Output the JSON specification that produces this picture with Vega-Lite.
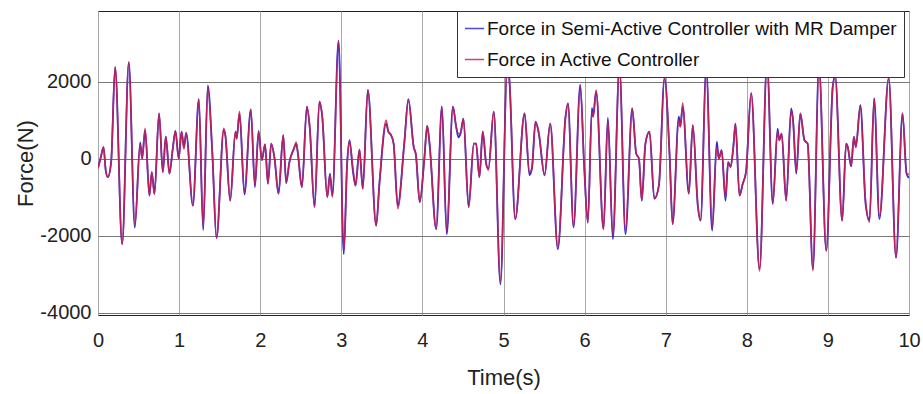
{
"$schema": "https://vega.github.io/schema/vega-lite/v6.json",
"width": 811, "height": 304,
"autosize": {"type": "none"},
"padding": {"left": 98, "top": 11, "right": 14, "bottom": 79},
"background": "white",
"config": {"view": {"stroke": "#222", "strokeWidth": 1}, "font": "Liberation Sans"},
"data": {"values": [
{"t":0.0,"semi":-250,"active":-250},{"t":0.035,"semi":40,"active":40},{"t":0.068,"semi":300,"active":300},{"t":0.095,"semi":-300,"active":-300},{"t":0.121,"semi":-480,"active":-480},{"t":0.162,"semi":-90,"active":-90},{"t":0.211,"semi":2375,"active":2375},{"t":0.298,"semi":-2220,"active":-2220},{"t":0.38,"semi":2500,"active":2500},{"t":0.454,"semi":-1790,"active":-1720},{"t":0.52,"semi":420,"active":360},{"t":0.544,"semi":0,"active":0},{"t":0.581,"semi":740,"active":790},{"t":0.634,"semi":-960,"active":-960},{"t":0.663,"semi":-350,"active":-350},{"t":0.696,"semi":-910,"active":-930},{"t":0.753,"semi":1175,"active":1175},{"t":0.799,"semi":-350,"active":-350},{"t":0.836,"semi":570,"active":570},{"t":0.881,"semi":-390,"active":-390},{"t":0.92,"semi":220,"active":220},{"t":0.955,"semi":720,"active":720},{"t":0.995,"semi":0,"active":0},{"t":1.03,"semi":700,"active":700},{"t":1.06,"semi":300,"active":250},{"t":1.087,"semi":670,"active":670},{"t":1.17,"semi":-1220,"active":-1220},{"t":1.243,"semi":1540,"active":1540},{"t":1.297,"semi":-1850,"active":-1760},{"t":1.354,"semi":1900,"active":1850},{"t":1.41,"semi":130,"active":130},{"t":1.461,"semi":-2060,"active":-2060},{"t":1.551,"semi":740,"active":790},{"t":1.57,"semi":610,"active":610},{"t":1.63,"semi":-1090,"active":-1090},{"t":1.695,"semi":700,"active":700},{"t":1.71,"semi":520,"active":520},{"t":1.745,"semi":1175,"active":1230},{"t":1.806,"semi":-930,"active":-880},{"t":1.884,"semi":1280,"active":1280},{"t":1.935,"semi":-740,"active":-680},{"t":1.98,"semi":720,"active":680},{"t":2.02,"semi":-40,"active":-40},{"t":2.06,"semi":370,"active":370},{"t":2.095,"semi":-650,"active":-650},{"t":2.136,"semi":390,"active":390},{"t":2.177,"semi":0,"active":0},{"t":2.226,"semi":-910,"active":-910},{"t":2.284,"semi":610,"active":610},{"t":2.32,"semi":-640,"active":-590},{"t":2.36,"semi":-90,"active":-90},{"t":2.416,"semi":260,"active":260},{"t":2.444,"semi":390,"active":430},{"t":2.465,"semi":130,"active":130},{"t":2.514,"semi":-740,"active":-740},{"t":2.576,"semi":1350,"active":1350},{"t":2.61,"semi":830,"active":830},{"t":2.67,"semi":-1260,"active":-1260},{"t":2.73,"semi":1480,"active":1480},{"t":2.765,"semi":1090,"active":1090},{"t":2.827,"semi":-1000,"active":-1000},{"t":2.86,"semi":-390,"active":-420},{"t":2.89,"semi":-960,"active":-1000},{"t":2.966,"semi":3060,"active":3060},{"t":3.03,"semi":-2480,"active":-2400},{"t":3.072,"semi":-130,"active":-130},{"t":3.101,"semi":480,"active":440},{"t":3.142,"semi":-300,"active":-217},{"t":3.175,"semi":-700,"active":-700},{"t":3.224,"semi":235,"active":235},{"t":3.265,"semi":-780,"active":-780},{"t":3.327,"semi":1780,"active":1780},{"t":3.43,"semi":-1740,"active":-1740},{"t":3.47,"semi":-650,"active":-650},{"t":3.553,"semi":910,"active":1000},{"t":3.58,"semi":700,"active":700},{"t":3.613,"semi":610,"active":610},{"t":3.645,"semi":390,"active":390},{"t":3.696,"semi":-1220,"active":-1300},{"t":3.778,"semi":435,"active":435},{"t":3.827,"semi":1540,"active":1540},{"t":3.893,"semi":300,"active":300},{"t":3.92,"semi":100,"active":100},{"t":3.967,"semi":-1130,"active":-1130},{"t":4.024,"semi":0,"active":0},{"t":4.059,"semi":850,"active":850},{"t":4.088,"semi":390,"active":390},{"t":4.17,"semi":-1830,"active":-1830},{"t":4.24,"semi":1350,"active":1350},{"t":4.3,"semi":-1960,"active":-1880},{"t":4.376,"semi":1350,"active":1350},{"t":4.416,"semi":830,"active":830},{"t":4.445,"semi":550,"active":650},{"t":4.47,"semi":650,"active":650},{"t":4.506,"semi":1040,"active":1040},{"t":4.57,"semi":-1260,"active":-1260},{"t":4.634,"semi":390,"active":390},{"t":4.662,"semi":390,"active":390},{"t":4.703,"semi":-480,"active":-480},{"t":4.744,"semi":700,"active":700},{"t":4.786,"semi":-130,"active":-130},{"t":4.814,"semi":-260,"active":-300},{"t":4.88,"semi":1220,"active":1220},{"t":4.962,"semi":-3260,"active":-3180},{"t":5.045,"semi":2300,"active":2300},{"t":5.07,"semi":2100,"active":2100},{"t":5.144,"semi":-1570,"active":-1570},{"t":5.26,"semi":1175,"active":1175},{"t":5.32,"semi":-430,"active":-360},{"t":5.35,"semi":-260,"active":-260},{"t":5.395,"semi":960,"active":960},{"t":5.436,"semi":650,"active":650},{"t":5.506,"semi":-435,"active":-435},{"t":5.576,"semi":910,"active":910},{"t":5.67,"semi":-2350,"active":-2280},{"t":5.765,"semi":1090,"active":1090},{"t":5.795,"semi":1435,"active":1435},{"t":5.864,"semi":-1780,"active":-1780},{"t":5.946,"semi":1910,"active":1910},{"t":5.995,"semi":-200,"active":-200},{"t":6.04,"semi":-1660,"active":-1660},{"t":6.09,"semi":1310,"active":1200},{"t":6.105,"semi":1090,"active":1090},{"t":6.142,"semi":1740,"active":1780},{"t":6.233,"semi":-1830,"active":-1830},{"t":6.287,"semi":1060,"active":990},{"t":6.348,"semi":-2090,"active":-1990},{"t":6.43,"semi":2400,"active":2400},{"t":6.504,"semi":-1960,"active":-1880},{"t":6.587,"semi":1300,"active":1300},{"t":6.636,"semi":130,"active":130},{"t":6.67,"semi":0,"active":0},{"t":6.705,"semi":-1090,"active":-1090},{"t":6.75,"semi":390,"active":390},{"t":6.8,"semi":700,"active":700},{"t":6.86,"semi":-1040,"active":-1040},{"t":6.916,"semi":-700,"active":-700},{"t":6.985,"semi":2090,"active":2090},{"t":7.05,"semi":0,"active":0},{"t":7.085,"semi":-1700,"active":-1700},{"t":7.162,"semi":1090,"active":1000},{"t":7.18,"semi":830,"active":830},{"t":7.21,"semi":1350,"active":1450},{"t":7.285,"semi":-910,"active":-910},{"t":7.334,"semi":870,"active":870},{"t":7.396,"semi":-1220,"active":-1220},{"t":7.43,"semi":-1610,"active":-1610},{"t":7.5,"semi":2350,"active":2350},{"t":7.573,"semi":-1870,"active":-1800},{"t":7.63,"semi":440,"active":300},{"t":7.655,"semi":0,"active":0},{"t":7.69,"semi":220,"active":220},{"t":7.737,"semi":-1090,"active":-1000},{"t":7.77,"semi":-90,"active":-90},{"t":7.8,"semi":-217,"active":-217},{"t":7.836,"semi":350,"active":350},{"t":7.86,"semi":910,"active":910},{"t":7.91,"semi":-960,"active":-960},{"t":7.95,"semi":-650,"active":-650},{"t":7.99,"semi":-350,"active":-350},{"t":8.054,"semi":1700,"active":1700},{"t":8.157,"semi":-2860,"active":-2915},{"t":8.25,"semi":2500,"active":2500},{"t":8.32,"semi":-1175,"active":-1175},{"t":8.38,"semi":780,"active":700},{"t":8.4,"semi":480,"active":480},{"t":8.43,"semi":650,"active":650},{"t":8.485,"semi":-1090,"active":-1090},{"t":8.547,"semi":1300,"active":1230},{"t":8.57,"semi":1000,"active":1000},{"t":8.61,"semi":-390,"active":-330},{"t":8.66,"semi":1175,"active":1175},{"t":8.71,"semi":480,"active":480},{"t":8.75,"semi":390,"active":390},{"t":8.815,"semi":-2870,"active":-2915},{"t":8.89,"semi":2400,"active":2400},{"t":8.98,"semi":-2390,"active":-2390},{"t":9.06,"semi":1870,"active":1870},{"t":9.09,"semi":2160,"active":2100},{"t":9.176,"semi":-1610,"active":-1610},{"t":9.225,"semi":390,"active":390},{"t":9.245,"semi":300,"active":300},{"t":9.287,"semi":-200,"active":-175},{"t":9.32,"semi":565,"active":565},{"t":9.345,"semi":300,"active":300},{"t":9.4,"semi":1390,"active":1350},{"t":9.465,"semi":-1175,"active":-1120},{"t":9.513,"semi":-1600,"active":-1650},{"t":9.57,"semi":1565,"active":1565},{"t":9.635,"semi":-1565,"active":-1500},{"t":9.75,"semi":2090,"active":2090},{"t":9.84,"semi":-2570,"active":-2570},{"t":9.92,"semi":1175,"active":1175},{"t":9.97,"semi":-390,"active":-390},{"t":10.0,"semi":-500,"active":-400}
]},
"encoding": {
  "x": {"field": "t", "type": "quantitative", "scale": {"domain": [0, 10], "nice": false},
    "axis": {"values": [0,1,2,3,4,5,6,7,8,9,10], "labelExpr": "'' + datum.value", "labelFlush": false, "labelFontSize": 20, "labelPadding": 15, "ticks": false, "domain": false, "grid": true, "gridColor": "#a8a8a8", "labelColor": "#222", "title": "Time(s)", "titleFontSize": 22, "titleFontWeight": "normal", "titleColor": "#222", "titleY": 62, "titleBaseline": "middle"}}
},
"layer": [
  {"mark": {"type": "line", "interpolate": "monotone", "strokeWidth": 1.8, "clip": true},
   "encoding": {
     "y": {"field": "semi", "type": "quantitative", "scale": {"domain": [-4057, 3830], "nice": false, "zero": false},
       "axis": {"values": [-4000, -2000, 0, 2000], "labelExpr": "'' + datum.value", "labelFontSize": 20, "labelPadding": 7, "ticks": false, "domain": false, "grid": true, "gridColor": "#777", "labelColor": "#222", "title": "Force(N)", "titleFontSize": 22, "titleFontWeight": "normal", "titleColor": "#222", "titleX": -73, "titleY": 152, "titleAlign": "center", "titleBaseline": "middle"}},
     "color": {"datum": "Force in Semi-Active Controller with MR Damper", "type": "nominal",
       "scale": {"domain": ["Force in Semi-Active Controller with MR Damper", "Force in Active Controller"], "range": ["#2a2ad8", "#d0204a"]},
       "legend": {"orient": "none", "legendX": 359, "legendY": 0, "title": null, "labelFontSize": 19, "labelColor": "#111", "symbolType": "stroke", "symbolSize": 361, "symbolStrokeWidth": 1.5, "strokeColor": "#333", "fillColor": "white", "padding": 7, "rowPadding": 10, "labelOffset": 2, "labelLimit": 700}}
   }},
  {"mark": {"type": "line", "interpolate": "monotone", "strokeWidth": 1.6, "opacity": 0.85, "clip": true},
   "encoding": {
     "y": {"field": "active", "type": "quantitative"},
     "color": {"datum": "Force in Active Controller", "type": "nominal"}
   }}
]
}
